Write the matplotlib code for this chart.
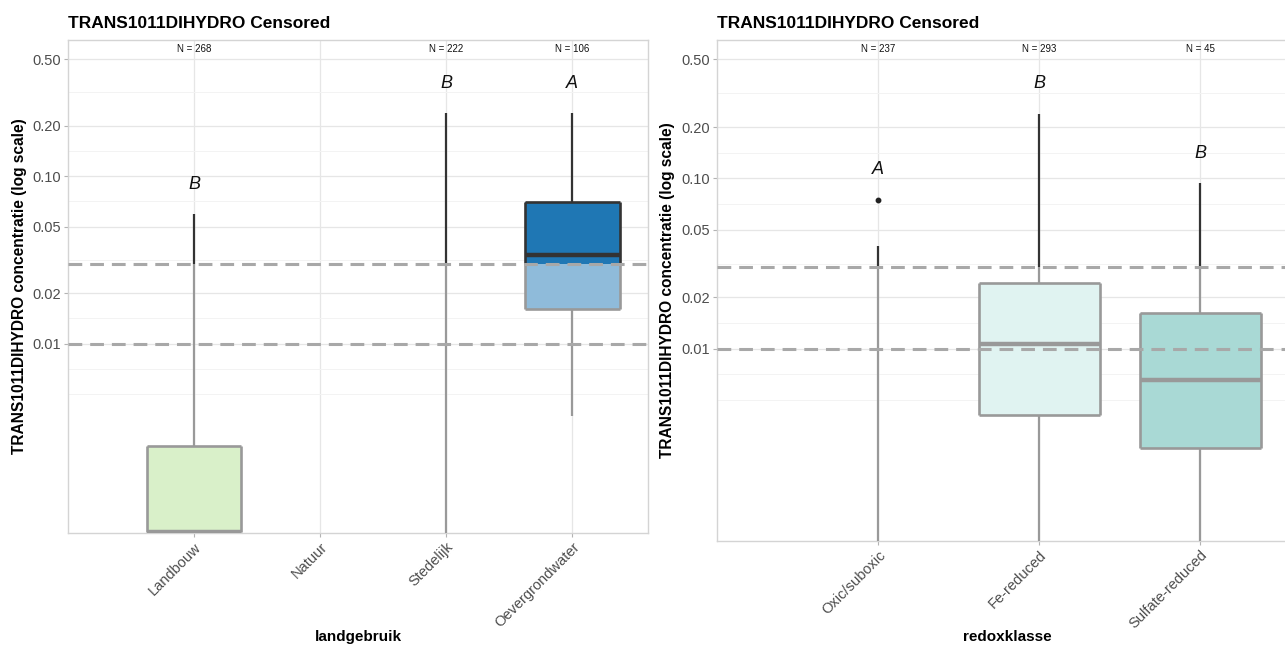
import numpy as np
import matplotlib
matplotlib.use('Agg')
import matplotlib.pyplot as plt

plt.rcParams['font.family'] = ['Liberation Sans', 'DejaVu Sans']

# censoring limits (dashed lines)
rl_high = 0.03
rl_low = 0.01
bottom_val = 0.0005  # below the visible axis range (box / whisker runs off the bottom)

# panel 1: landgebruik
land_cats = ['Landbouw', 'Natuur', 'Stedelijk', 'Oevergrondwater']
land_q1 = [0.00075, np.nan, bottom_val, 0.0161]
land_med = [0.00075, np.nan, bottom_val, 0.0339]
land_q3 = [0.00246, np.nan, bottom_val, 0.0702]
land_wlo = [0.00075, np.nan, bottom_val, 0.00372]
land_whi = [0.0595, np.nan, 0.238, 0.238]
land_out = [[], [], [], []]
land_n = [268, None, 222, 106]
land_letters = ['B', '', 'B', 'A']
land_dark = ['#74c476', '#ffffff', '#ffffff', '#1f77b4']
land_light = ['#d9f0c9', '#ffffff', '#ffffff', '#8fbbda']

# panel 2: redoxklasse
redox_cats = ['Oxic/suboxic', 'Fe-reduced', 'Sulfate-reduced']
redox_q1 = [bottom_val, 0.00408, 0.0026]
redox_med = [bottom_val, 0.0106, 0.00656]
redox_q3 = [bottom_val, 0.0243, 0.0161]
redox_wlo = [bottom_val, bottom_val, bottom_val]
redox_whi = [0.0402, 0.239, 0.0935]
redox_out = [[0.0751], [], []]
redox_n = [237, 293, 45]
redox_letters = ['A', 'B', 'B']
redox_dark = ['#41b6c4', '#41b6c4', '#2a9d8f']
redox_light = ['#ffffff', '#e0f3f1', '#a9d9d5']

y_ticks = [0.01, 0.02, 0.05, 0.10, 0.20, 0.50]
y_ticklabels = ['0.01', '0.02', '0.05', '0.10', '0.20', '0.50']
y_minor = [0.005, 0.00707, 0.01414, 0.0316, 0.0707, 0.1414, 0.3162]

GREY = '#999999'
DARK = '#333333'


def split(lo, hi, lim):
    # returns (below part, above part) of an interval split at lim
    below = (lo, min(hi, lim)) if lo < lim else None
    above = (max(lo, lim), hi) if hi > lim else None
    return below, above


def draw_panel(ax, cats, q1, med, q3, wlo, whi, outl, ns, letters, dark, light, xlabel):
    w = 0.75
    x = np.arange(1, len(cats) + 1)
    for i, xi in enumerate(x):
        if np.isnan(q1[i]):
            continue
        # whiskers
        for lo, hi in [(wlo[i], q1[i]), (q3[i], whi[i])]:
            b, a = split(lo, hi, rl_high)
            if b and b[1] > b[0]:
                ax.vlines(xi, b[0], b[1], color=GREY, lw=1.6, zorder=3)
            if a and a[1] > a[0]:
                ax.vlines(xi, a[0], a[1], color=DARK, lw=1.6, zorder=3)
        # box
        if q3[i] > q1[i]:
            b, a = split(q1[i], q3[i], rl_high)
            if b:
                ax.bar(xi, b[1] - b[0], bottom=b[0], width=w, color=light[i], lw=0, zorder=2)
                ax.vlines([xi - w / 2, xi + w / 2], b[0], b[1], color=GREY, lw=1.9, zorder=4)
            if a:
                ax.bar(xi, a[1] - a[0], bottom=a[0], width=w, color=dark[i], lw=0, zorder=2)
                ax.vlines([xi - w / 2, xi + w / 2], a[0], a[1], color=DARK, lw=1.9, zorder=4)
            ax.hlines(q3[i], xi - w / 2, xi + w / 2, color=DARK if q3[i] > rl_high else GREY, lw=1.9, zorder=4)
            ax.hlines(q1[i], xi - w / 2, xi + w / 2, color=DARK if q1[i] > rl_high else GREY, lw=1.9, zorder=4)
            ax.hlines(med[i], xi - w / 2, xi + w / 2, color=DARK if med[i] > rl_high else GREY, lw=3.2, zorder=5)
        if outl[i]:
            ax.plot([xi] * len(outl[i]), outl[i], 'o', color='#222222', ms=3.2, zorder=5)
        top = max([whi[i]] + outl[i])
        ax.text(xi, top * 1.5, letters[i], ha='center', va='center', fontsize=13, style='italic', color='#111111')
        if ns[i] is not None:
            ax.text(xi, 0.575, f'N = {ns[i]}', ha='center', va='center', fontsize=7, color='#111111')

    for lim in (rl_high, rl_low):
        ax.axhline(lim, color='#a8a8a8', lw=2.2, ls=(0, (4.5, 2.6)), zorder=6)

    ax.set_yscale('log')
    ax.set_ylim(0.00074, 0.65)
    ax.set_xlim(0, len(cats) + 0.6)
    ax.set_yticks(y_ticks)
    ax.set_yticklabels(y_ticklabels)
    ax.set_yticks(y_minor, minor=True)
    ax.yaxis.set_minor_formatter(matplotlib.ticker.NullFormatter())
    ax.set_xticks(x)
    ax.set_xticklabels(cats, rotation=45, ha='right', va='top', rotation_mode='anchor')
    ax.tick_params(axis='both', which='major', labelsize=10.5, labelcolor='#4d4d4d',
                   color='#b3b3b3', length=3, width=0.8, pad=2)
    ax.tick_params(axis='y', which='minor', length=0)
    ax.grid(True, which='major', color='#e6e6e6', lw=0.9, zorder=0)
    ax.grid(True, which='minor', axis='y', color='#f3f3f3', lw=0.7, zorder=0)
    ax.set_axisbelow(True)
    for s in ax.spines.values():
        s.set_color('#d4d4d4')
        s.set_linewidth(1.0)
    ax.set_title('TRANS1011DIHYDRO Censored', loc='left', fontsize=12.5, fontweight='bold', pad=9)
    ax.set_ylabel('TRANS1011DIHYDRO concentratie (log scale)', fontsize=11.2, fontweight='bold')
    ax.set_xlabel(xlabel, fontsize=11, fontweight='bold')


W, H = 1285, 651
fig = plt.figure(figsize=(W / 100, H / 100), dpi=100)
ax1 = fig.add_axes([68 / W, (H - 533) / H, 580 / W, 493 / H])
ax2 = fig.add_axes([717 / W, (H - 541) / H, 580 / W, 501 / H])

draw_panel(ax1, land_cats, land_q1, land_med, land_q3, land_wlo, land_whi, land_out,
           land_n, land_letters, land_dark, land_light, 'landgebruik')
draw_panel(ax2, redox_cats, redox_q1, redox_med, redox_q3, redox_wlo, redox_whi, redox_out,
           redox_n, redox_letters, redox_dark, redox_light, 'redoxklasse')

ax1.yaxis.set_label_coords(-0.071, 0.5)
ax2.yaxis.set_label_coords(-0.073, 0.5)
ax1.xaxis.set_label_coords(0.5, -0.197)
ax2.xaxis.set_label_coords(0.5, -0.178)

fig.savefig('out.png', dpi=100, facecolor='white')
